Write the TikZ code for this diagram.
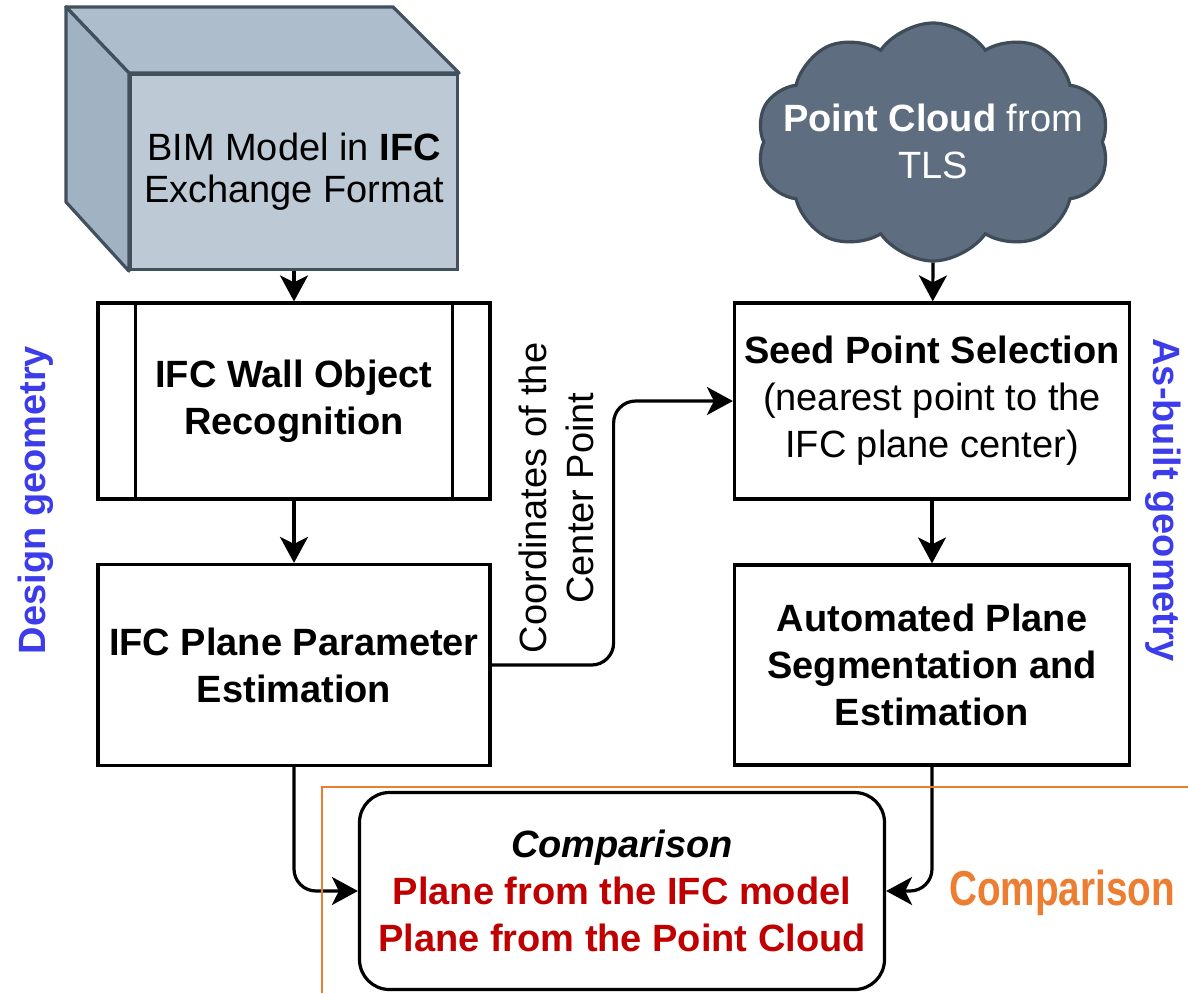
\documentclass[tikz,border=0pt]{standalone}
\usepackage{fontspec}
\setmainfont{Liberation Sans}
\newfontfamily\narrowfont[FakeStretch=0.79]{Liberation Sans}
\usetikzlibrary{arrows.meta,shapes.symbols}

\definecolor{cubefront}{HTML}{BDCAD6}
\definecolor{cubetop}{HTML}{AEBDCB}
\definecolor{cubeside}{HTML}{A1B3C3}
\definecolor{cubeedge}{HTML}{42505E}
\definecolor{cloudfill}{HTML}{5E6E80}
\definecolor{cloudedge}{HTML}{3E4B58}
\definecolor{geomblue}{HTML}{3C3CEB}
\definecolor{planered}{HTML}{C00000}
\definecolor{orangeline}{HTML}{ED7D31}

\begin{document}
\begin{tikzpicture}[x=1pt,y=-1pt,line width=3.2pt,
    every node/.style={font=\fontsize{38}{47}\selectfont}]
  \tikzstyle{process} = [draw=black, fill=white, inner sep=0pt, align=center]
  \tikzstyle{arrow} = [-{Stealth[length=26pt,width=28pt,inset=7pt]}]
  \tikzstyle{side} = [text=geomblue, font=\fontsize{38}{47}\selectfont\bfseries]

  \useasboundingbox (0,0) rectangle (1188,993);

  % BIM model drawn as a box in perspective
  \node[draw=cubeedge, fill=cubefront, minimum width=327pt, minimum height=195pt,
        inner sep=0pt, align=center, font=\fontsize{38}{42}\selectfont]
        (bim) at (294,172) {BIM Model in \textbf{IFC}\\Exchange Format};
  \draw[draw=cubeedge, fill=cubetop, line join=round]
    (bim.north west) -- ++(-63pt,66pt) -- ++(327pt,0pt) -- (bim.north east) -- cycle;
  \draw[draw=cubeedge, fill=cubeside, line join=round]
    (bim.north west) -- ++(-63pt,66pt) -- ++(0pt,-195pt) -- (bim.south west) -- cycle;

  \node[cloud, cloud puffs=10, cloud puff arc=110, aspect=1.5, draw=cloudedge,
        fill=cloudfill, minimum width=353pt, minimum height=238pt, inner sep=0pt]
        (cloud) at (933,142) {};
  \node[align=center, text=white] (cloudtext) at (933,141)
    {\textbf{Point Cloud} from\\TLS};

  \node[process, minimum width=392pt, minimum height=196pt] (wall) at (294,401)
    {\textbf{IFC Wall Object}\\\textbf{Recognition}};
  \draw ([xshift=39pt]wall.north west) -- ([xshift=39pt]wall.south west);
  \draw ([xshift=-39pt]wall.north east) -- ([xshift=-39pt]wall.south east);

  \node[process, minimum width=392pt, minimum height=201pt] (plane) at (294,665)
    {\textbf{IFC Plane Parameter}\\\textbf{Estimation}};
  \node[process, minimum width=395pt, minimum height=196pt] (seed) at (932,401)
    {\textbf{Seed Point Selection}\\(nearest point to the\\IFC plane center)};
  \node[process, minimum width=395pt, minimum height=200pt] (seg) at (932,665)
    {\textbf{Automated Plane}\\\textbf{Segmentation and}\\\textbf{Estimation}};

  \node[process, rounded corners=30pt, minimum width=525pt, minimum height=197pt]
    (comp) at (622,891)
    {\textbf{\textit{Comparison}}\\
     \textcolor{planered}{\textbf{Plane from the IFC model}}\\
     \textcolor{planered}{\textbf{Plane from the Point Cloud}}};

  \node[rotate=90, align=center] (coord) at (556,498)
    {Coordinates of the\\Center Point};
  \node[side, rotate=90] (design) at (36,500) {Design geometry};
  \node[side, rotate=-90] (asbuilt) at (1163,500) {As-built geometry};

  \draw[arrow] (bim) -- (wall);
  \draw[arrow] (wall) -- (plane);
  \draw[arrow] (cloud.south) -- (seed);
  \draw[arrow] (seed) -- (seg);
  \draw[arrow, rounded corners=22pt] (plane.east) -- ++(122pt,0pt) |- (seed.west);
  \draw[arrow, rounded corners=22pt] (plane.south) |- (comp.west);
  \draw[arrow, rounded corners=22pt] (seg.south) |- (comp.east);

  \draw[orangeline, line width=2pt] (1188,787) -- (322,787) -- (322,993);
  \node[text=orangeline, font=\fontsize{49}{56}\narrowfont\bfseries] (cmplabel)
    at (1062,893) {Comparison};
\end{tikzpicture}
\end{document}
